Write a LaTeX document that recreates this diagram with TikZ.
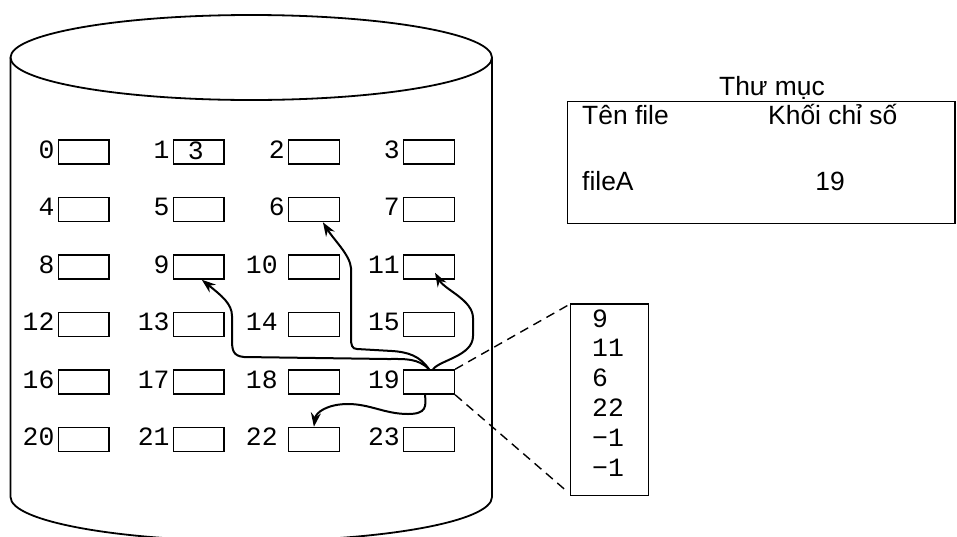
\documentclass[tikz,border=0pt]{standalone}
\usepackage{fontspec}
\setmainfont{Liberation Sans}
\setmonofont{Liberation Mono}
\usetikzlibrary{arrows.meta}

\begin{document}
\begin{tikzpicture}[>={Stealth[length=14pt,width=10pt]},x=1pt,y=-1pt,
  blk/.style={draw,line width=1.5pt,minimum width=50.7pt,minimum height=24pt,inner sep=0pt},
  num/.style={inner sep=0pt,anchor=base east,font=\ttfamily\fontsize{26.4}{30}\selectfont},
  txt/.style={inner sep=0pt,font=\fontsize{26.4}{30}\selectfont},
  ptr/.style={->,line width=2pt},
  lnk/.style={line width=1.4pt,dash pattern=on 9pt off 6pt}]
  \useasboundingbox (0,0) rectangle (957,536);
  \draw[line width=1.8pt] (251.25,57.5) ellipse [x radius=240.75pt,y radius=42.5pt];
  \draw[line width=1.8pt] (10.5,57.5) -- (10.5,497) .. controls (10.5,521.3) and (118.3,541) .. (251.25,541)
    .. controls (384.2,541) and (492,521.3) .. (492,497) -- (492,57.5);
  \foreach \i in {0,...,23}{
    \pgfmathtruncatemacro\c{mod(\i,4)}
    \pgfmathtruncatemacro\r{\i/4}
    \pgfmathsetmacro\dx{(\c==2 && \i>9) ? -10 : -3}
    \node[blk] (b\i) at ({83.7+115.1*\c},{152+57.5*\r}) {};
    \node[num] (l\i) at ([xshift=\dx pt,yshift=-6.3pt]b\i.west) {\i};
  }
  \node[num,anchor=center] (v1) at ([xshift=-3pt,yshift=1.5pt]b1) {3};
  \node[draw,line width=1.5pt,minimum width=77.6pt,minimum height=191.7pt,inner sep=0pt] (lst) at (609.5,399.85) {};
  \foreach \v [count=\k] in {9,11,6,22,−1,−1}
    \node[num,anchor=base west] (e\k) at (592,{327+29.8*(\k-1)}) {\v};
  \draw[lnk] (b19.north east) -- ([xshift=-2pt,yshift=-2pt]lst.north west);
  \draw[lnk] (b19.south east) -- ([xshift=-4pt,yshift=6pt]lst.south west);
  \draw[ptr] (b19.north) .. controls (418,358) and (405,359) .. (388,359) -- (244,357)
    .. controls (233,356) and (232,350) .. (232,340) -- (232,316) .. controls (232,304) and (222,296) .. ([xshift=3pt]b9.south);
  \draw[ptr] (b19.north) .. controls (420,356) and (408,352) .. (392,351) -- (357,349)
    .. controls (352,349) and (351,345) .. (351,338) -- (351,268) .. controls (350,255) and (334,240) .. ([xshift=9pt]b6.south);
  \draw[ptr] ([xshift=4pt]b19.north) .. controls (440,360) and (473,356) .. (473,336) -- (473,318)
    .. controls (473,300) and (445,290) .. ([xshift=6pt,yshift=7pt]b11.south);
  \draw[ptr] ([xshift=-4pt]b19.south) .. controls (426,406) and (427,414) .. (408,414)
    .. controls (385,414) and (370,404) .. (348,404) .. controls (328,404) and (316,412) .. (b22.north);
  \draw[line width=1.5pt] (567.3,101.7) rectangle (955,223.3);
  \node[txt,anchor=base] (title) at (772,95.5) {Thư mục};
  \node[txt,anchor=base west] (hname) at (582,124.3) {Tên file};
  \node[txt,anchor=base west] (hidx) at (768,124.3) {Khối chỉ số};
  \node[txt,anchor=base west] (fname) at (582,190) {fileA};
  \node[txt,anchor=base] (fidx) at (830,190) {19};
\end{tikzpicture}
\end{document}
